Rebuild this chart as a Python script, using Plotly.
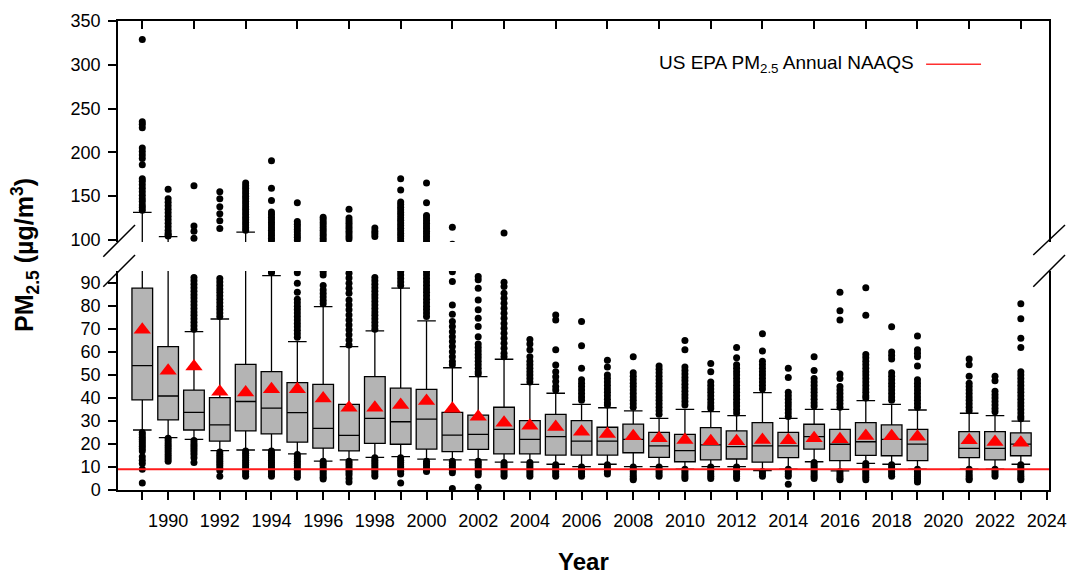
import plotly.graph_objects as go

# ---------------- data ----------------
years = [1989, 1990, 1991, 1992, 1993, 1994, 1995, 1996, 1997, 1998, 1999, 2000,
         2001, 2002, 2003, 2004, 2005, 2006, 2007, 2008, 2009, 2010, 2011, 2012,
         2013, 2014, 2015, 2016, 2017, 2018, 2019, 2021, 2022, 2023]
q1 = [39.2, 30.5, 26.1, 21.3, 25.7, 24.4, 20.8, 18.2, 17.0, 20.3, 19.9, 17.8,
      16.7, 17.7, 15.7, 15.7, 15.2, 15.2, 15.2, 16.2, 14.2, 12.3, 13.1, 13.5,
      12.1, 14.1, 17.8, 12.8, 15.1, 14.9, 12.8, 14.1, 13.1, 14.9]
median = [54.1, 40.9, 33.8, 28.3, 38.5, 35.6, 33.7, 26.8, 23.8, 31.2, 29.7, 30.8,
          23.9, 24.2, 26.4, 22.0, 23.2, 21.3, 21.3, 22.0, 19.2, 17.1, 19.6, 18.9,
          19.2, 19.2, 23.2, 19.9, 21.0, 22.0, 20.0, 18.1, 18.1, 20.0]
q3 = [87.8, 62.4, 43.5, 40.2, 54.7, 51.5, 46.7, 46.0, 37.3, 49.3, 44.3, 43.8,
      33.8, 32.6, 36.0, 30.2, 32.9, 30.2, 27.3, 28.7, 25.1, 24.2, 27.1, 25.7,
      29.3, 25.1, 28.6, 26.4, 29.3, 28.3, 26.4, 25.4, 25.4, 24.9]
whisker_low = [26.1, 22.8, 22.0, 17.1, 17.4, 17.4, 15.7, 12.6, 13.1, 14.2, 14.5, 13.4,
               13.1, 13.1, 12.1, 12.1, 11.2, 10.2, 11.2, 10.2, 10.2, 9.1, 10.2, 10.2,
               8.4, 9.1, 12.3, 8.3, 11.6, 11.2, 9.1, 9.1, 9.1, 11.2]
whisker_high = [131.6, 103.8, 68.9, 74.4, 109.0, 93.3, 64.6, 79.8, 62.4, 69.2, 87.8, 73.6,
                53.2, 49.3, 56.9, 46.0, 42.1, 37.3, 35.8, 34.4, 31.2, 35.1, 34.1, 32.4,
                42.4, 31.2, 35.1, 35.1, 38.9, 37.3, 34.8, 33.4, 32.4, 30.0]
mean = [69.7, 51.9, 53.7, 42.8, 42.4, 43.8, 43.8, 39.8, 35.8, 35.8, 37.0, 38.7,
        35.4, 31.9, 29.3, 28.0, 27.4, 25.3, 24.4, 23.4, 22.5, 21.8, 21.2, 21.2,
        21.8, 21.6, 22.5, 22.1, 23.5, 23.4, 23.2, 21.6, 20.9, 20.6]

outliers_above = {
    1989: [329, 235, 232, 228, 205, 201, 197, 193, 186, 170, 167, 163, 159, 155, 151, 147, 144, 140, 137, 134],
    1990: [158, 147, 143, 139, 135, 131, 127, 123, 119, 115, 111, 108, 106, 104.5],
    1991: [162, 116, 110, 102, 92.5, 91, 89.5, 88, 86.5, 85, 83.5, 82, 80.5, 79, 77.5, 76, 74.5, 73, 71.5, 70],
    1992: [155, 147, 138, 130, 122, 113, 92, 90.5, 89, 87.5, 86, 84.5, 83, 81.5, 80, 78.5, 77, 75.5],
    1993: [165, 162, 159, 156, 153, 150, 147, 144, 141, 138, 135, 132, 129, 126, 123, 120, 117, 114, 111],
    1994: [190.5, 159, 145, 132, 129, 126, 123, 120, 117, 114, 111, 108, 105, 102, 99.5, 95, 94.5],
    1995: [142.5, 121, 118, 115, 112, 109, 106, 103, 100, 94.5, 90, 86, 83, 81.5, 80, 78.5, 77, 75.5, 74,
           72.5, 71, 69.5, 68, 66.5],
    1996: [126, 123, 120, 117, 114, 111, 108, 105, 102, 99, 95, 93.5, 89, 87, 85.5, 84, 82.5, 81],
    1997: [135, 125, 122, 119, 116, 113, 110, 107, 104, 101, 94.3, 92.2, 90, 87.8, 85.6, 82.7, 80.5, 78.4,
           76.2, 74, 71.8, 69.7, 67.5, 65.3, 63.1],
    1998: [113.7, 110, 107, 104, 92.5, 91, 89.5, 88, 86.5, 85, 83.5, 82, 80.5, 79, 77.5, 76, 74.5, 73, 71.5, 70],
    1999: [170, 157, 143.5, 140.5, 137.5, 134.5, 131.5, 128.5, 125.5, 122.5, 119.5, 116.5, 113.5, 110.5,
           107.5, 104.5, 101.5, 98.5, 95, 93.5, 92, 90.5, 89],
    2000: [165, 142.5, 128, 125, 122, 119, 116, 113, 110, 107, 104, 101, 98, 95, 93.5, 92, 90.5, 89, 87.5,
           86, 84.5, 83, 81.5, 80, 78.5, 77, 75.5],
    2001: [114.5, 95, 90.7, 80.5, 76.5, 73.3, 71.1, 68.9, 66.7, 64.6, 62.4, 60.2, 58, 55.9, 54.5],
    2002: [92.9, 91.5, 87.8, 82.7, 78.4, 74.7, 71.1, 66.7, 63.5, 62, 60.5, 59, 57.5, 56, 54.5, 53, 51.5, 50.5],
    2003: [108, 90.4, 88.5, 85.6, 83.4, 81.3, 79.1, 76.9, 74.7, 72.5, 70.4, 68.2, 66, 63.9, 61.7, 59.5, 58],
    2004: [65.5, 63.5, 61, 58, 56, 54.5, 53, 51.5, 50, 48.5, 47],
    2005: [76.2, 74, 61, 54.4, 51.5, 49.3, 47.2, 45, 43.5],
    2006: [73.3, 62.8, 53, 48, 46.5, 45, 43.5, 42, 40.5, 39],
    2007: [56.5, 53.5, 50, 48.5, 47, 45.5, 44, 42.5, 41, 39.5, 38, 37],
    2008: [58, 51, 49.5, 48, 46.5, 45, 43.5, 42, 40.5, 39, 37.5, 36],
    2009: [54, 52.5, 51, 49.5, 48, 46.5, 45, 43.5, 42, 40.5, 39, 37.5, 36, 34.5, 33],
    2010: [65, 61, 53.5, 52, 50.5, 49, 47.5, 46, 44.5, 43, 41.5, 40, 38.5, 37],
    2011: [55, 51.5, 47, 45.5, 44, 42.5, 41, 39.5, 38, 36.5, 35.5],
    2012: [62, 57.5, 54.5, 53, 51.5, 50, 48.5, 47, 45.5, 44, 42.5, 41, 39.5, 38, 36.5, 35, 33.5],
    2013: [68, 60.5, 56, 54.5, 53, 51.5, 50, 48.5, 47, 45.5, 44],
    2014: [53, 49, 42.5, 41, 39.5, 38, 36.5, 35, 33.5, 32],
    2015: [58, 52, 48.5, 47, 45.5, 44, 42.5, 41, 39.5, 38, 36.5],
    2016: [86, 78, 74, 50.5, 48.5, 45, 43.5, 42, 40.5, 39, 37.5, 36],
    2017: [88, 76, 59, 57.5, 56, 54.5, 53, 51.5, 50, 48.5, 47, 45.5, 44, 42.5, 41, 40],
    2018: [71, 60, 58.5, 57, 51, 49.5, 48, 46.5, 45, 43.5, 42, 40.5, 39],
    2019: [67, 61, 59.5, 58, 54, 48, 46.5, 45, 43.5, 42, 40.5, 39, 37.5, 36],
    2021: [57, 54.5, 49.5, 46.5, 45, 43.5, 42, 40.5, 39, 37.5, 36, 34.5],
    2022: [49.5, 47.5, 43, 41.5, 40, 38.5, 37, 35.5, 34],
    2023: [81, 74.5, 66, 62, 51.5, 50, 48.5, 47, 45.5, 44, 42.5, 41, 39.5, 38, 36.5, 35, 33.5, 32, 31],
}
outliers_below = {
    1989: [25, 24, 23, 22, 21, 20, 19, 18, 17, 14.5, 13, 11.5, 9, 3],
    1990: [22.5, 21.5, 20.5, 19.5, 18.5, 17.5, 16.5, 15.5, 14.5, 13.5, 12.5],
    1991: [21.5, 20.5, 19.5, 18.5, 17.5, 16.5, 15.5, 14, 12],
    1992: [16.5, 15.5, 14.5, 13.5, 12.5, 11.5, 10.5, 9.5, 8.5, 6],
    1993: [17, 16, 15, 14, 13, 12, 11, 10, 9, 8, 7, 6],
    1994: [17, 16, 15, 14, 13, 12, 11, 10, 9, 8, 7, 6],
    1995: [15.5, 14.5, 13.5, 12.5, 11.5, 10.5, 9.5, 8.5, 7.5, 6.5, 5.5],
    1996: [12.5, 11.5, 10.5, 9.5, 8.5, 7.5, 6.5, 5.5, 4.8],
    1997: [12.5, 11.5, 10.5, 9.5, 8.5, 7.5, 6.5, 5, 3.5],
    1998: [14, 13, 12, 11, 10, 9, 8, 7, 6],
    1999: [14, 13, 12, 11, 10, 9, 8, 7, 3],
    2000: [12.5, 11.5, 10.5, 9.5, 8.5, 8],
    2001: [12.5, 11.5, 10.5, 9.5, 8.5, 7.5, 0.7],
    2002: [12.5, 11.5, 10.5, 9.5, 8.5, 7.5, 6.5, 1.2],
    2003: [12, 11, 10, 9, 8, 7, 6],
    2004: [12, 11, 10, 9, 8, 7, 6],
    2005: [11, 10, 9, 8, 7, 6],
    2006: [10, 9, 8, 7, 6],
    2007: [11, 10, 9, 8, 7],
    2008: [10, 9, 8, 7, 6, 5, 4.5],
    2009: [10, 9, 8, 7, 6],
    2010: [9, 8, 7, 6, 5],
    2011: [10, 9, 8, 7, 6, 5],
    2012: [10, 9, 8, 7, 6, 5],
    2013: [8, 7, 6],
    2014: [9, 8, 7, 6, 2.5],
    2015: [12, 11, 10, 9, 8, 7, 6, 5],
    2016: [8, 7, 6, 5, 4.5],
    2017: [11.5, 10.5, 9.5, 8.5, 7.5, 6.5, 5.5, 4.5],
    2018: [11, 10, 9, 8, 7, 6],
    2019: [9, 8, 7, 6, 5, 4, 3.5],
    2021: [9, 8, 7, 6, 5, 4.5],
    2022: [9, 8, 7, 6],
    2023: [11, 10, 9, 8, 7, 6, 5, 4.5],
}
naaqs = 9
naaqs_label = "US EPA PM<sub>2.5</sub> Annual NAAQS"

label_years = list(range(1990, 2025, 2))
label_text = [str(y) for y in label_years]
minor_years = list(range(1989, 2024, 2))
top_tick_years = list(range(1989, 2024, 2))
lower_ticks = [0, 10, 20, 30, 40, 50, 60, 70, 80, 90]
upper_ticks = [100, 150, 200, 250, 300, 350]

# ---------------- build ----------------
out_x, out_y = [], []
for group in (outliers_above, outliers_below):
    for yr, vals in group.items():
        out_x += [yr] * len(vals)
        out_y += vals

fig = go.Figure()
for xa, ya in (("x", "y"), ("x2", "y2")):
    fig.add_trace(go.Box(
        x=years, q1=q1, median=median, q3=q3,
        lowerfence=whisker_low, upperfence=whisker_high,
        xaxis=xa, yaxis=ya, width=0.8, whiskerwidth=0.9,
        fillcolor="#b4b4b4", line=dict(color="black", width=1.3),
        boxpoints=False, showlegend=False, hoverinfo="skip"))
    fig.add_trace(go.Scatter(
        x=out_x, y=out_y, mode="markers", xaxis=xa, yaxis=ya,
        marker=dict(color="black", size=7, line=dict(width=0)),
        cliponaxis=True, showlegend=False, hoverinfo="skip"))
    fig.add_trace(go.Scatter(
        x=years, y=mean, mode="markers", xaxis=xa, yaxis=ya,
        marker=dict(symbol="triangle-up", color="#ff0000", size=15, line=dict(width=0)),
        cliponaxis=True, showlegend=False, hoverinfo="skip"))

axis_common = dict(showline=True, linecolor="black", linewidth=1.5, showgrid=False,
                   zeroline=False, tickcolor="black", tickwidth=1.5, automargin=False)

fig.update_layout(
    width=1069, height=574,
    margin=dict(l=118, r=20, t=21, b=84, autoexpand=False),
    plot_bgcolor="white", paper_bgcolor="white",
    font=dict(family="Arial, Liberation Sans, sans-serif", size=18, color="black"),
    boxmode="overlay",
    xaxis=dict(domain=[0, 1], anchor="y", range=[1988.06, 2024.09],
               tickvals=label_years, ticktext=label_text,
               ticks="outside", ticklen=8, ticklabelstandoff=6,
               minor=dict(tickvals=minor_years, ticks="outside", ticklen=8,
                          tickwidth=1.5, tickcolor="black", showgrid=False),
               **axis_common),
    xaxis2=dict(domain=[0, 1], anchor="y2", range=[1988.06, 2024.09], side="top",
                tickvals=top_tick_years, ticks="inside", ticklen=8,
                showticklabels=False, **axis_common),
    yaxis=dict(domain=[0, 0.467], anchor="x", range=[0, 95.3], tickvals=lower_ticks,
               ticks="outside", ticklen=8, mirror=True, ticklabelstandoff=4,
               tickfont=dict(size=18), **axis_common),
    yaxis2=dict(domain=[0.5288, 1], anchor="x2", range=[97.7, 350], tickvals=upper_ticks,
                ticks="outside", ticklen=8, mirror=True, ticklabelstandoff=4,
                tickfont=dict(size=18), **axis_common),
)

shapes = [
    dict(type="line", xref="x domain", x0=0, x1=1, yref="y", y0=naaqs, y1=naaqs,
         line=dict(color="#ff1a1a", width=2)),
    # legend sample line
    dict(type="line", xref="paper", yref="paper", x0=0.868, x1=0.927, y0=0.908, y1=0.908,
         line=dict(color="#ff3030", width=1.5)),
]
# axis-break slashes
for (x0, y0, x1, y1) in [(-0.0158, 0.4974, 0.0183, 0.565), (-0.0158, 0.4335, 0.0183, 0.5011),
                         (0.9831, 0.5011, 1.0172, 0.565), (0.9831, 0.4335, 1.0172, 0.5011)]:
    shapes.append(dict(type="line", xref="paper", yref="paper", x0=x0, y0=y0, x1=x1, y1=y1,
                       line=dict(color="black", width=1.5)))
fig.update_layout(shapes=shapes)

fig.add_annotation(text="<b>PM<sub>2.5</sub> (µg/m<sup>3</sup>)</b>", xref="paper", yref="paper",
                   x=-0.0999, y=0.501, textangle=-90, showarrow=False,
                   xanchor="center", yanchor="middle", font=dict(size=25))
fig.add_annotation(text="<b>Year</b>", xref="paper", yref="paper", x=0.5, y=-0.1535,
                   showarrow=False, xanchor="center", yanchor="middle", font=dict(size=24))
fig.add_annotation(text=naaqs_label, xref="paper", yref="paper", x=0.579, y=0.909,
                   showarrow=False, xanchor="left", yanchor="middle", font=dict(size=19))

fig.write_html("out.html")
